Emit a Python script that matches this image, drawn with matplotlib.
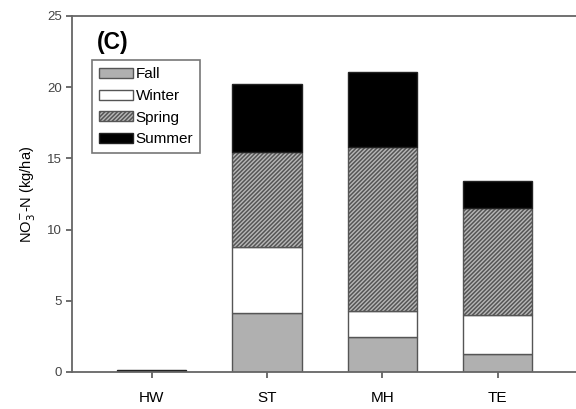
import matplotlib
matplotlib.use("Agg")
import matplotlib.pyplot as plt
import numpy as np

plt.rcParams['font.family'] = ['Liberation Sans', 'DejaVu Sans']
plt.rcParams['hatch.linewidth'] = 1.1
plt.rcParams['hatch.color'] = '#3a3a3a'

sites = ["HW", "ST", "MH", "TE"]
fall = [0.0, 4.12, 2.46, 1.26]
winter = [0.0, 4.68, 1.85, 2.74]
spring = [0.0, 6.63, 11.51, 7.50]
summer = [0.12, 4.77, 5.23, 1.91]

fig = plt.figure(figsize=(5.76, 4.09), dpi=100)
ax = fig.add_axes([0.125, 0.0905, 0.875, 0.8705])

x = np.arange(len(sites))
w = 0.6
edge = '#555555'
bottom = np.zeros(len(sites))
series = [
    ("Fall", fall, dict(facecolor='#b0b0b0', edgecolor=edge)),
    ("Winter", winter, dict(facecolor='white', edgecolor=edge)),
    ("Spring", spring, dict(facecolor='#b8b8b8', edgecolor=edge, hatch='////////')),
    ("Summer", summer, dict(facecolor='black', edgecolor='#222222')),
]
for name, vals, style in series:
    ax.bar(x, vals, w, bottom=bottom, label=name, linewidth=1.0, **style)
    bottom += np.array(vals)

ax.set_xlim(-0.69, 3.68)
ax.set_ylim(0, 25)
ax.set_yticks([0, 5, 10, 15, 20, 25])
ax.set_xticks(x)
ax.set_xticklabels(sites, fontsize=11)
ax.tick_params(axis='y', labelsize=9.5, labelcolor='#444444', color='#555555', length=4, width=1.2)
ax.tick_params(axis='x', color='#555555', length=4, width=1.2, pad=10)
for s in ['left', 'top', 'bottom', 'right']:
    ax.spines[s].set_color('#666666')
    ax.spines[s].set_linewidth(1.3)
ax.spines['right'].set_visible(False)

ax.set_ylabel("NO$_3^{-}$-N (kg/ha)", fontsize=10.5, labelpad=6)

ax.text(0.05, 0.957, "(C)", transform=ax.transAxes, fontsize=16.5, fontweight='bold',
        va='top', ha='left')

leg = ax.legend(loc='upper left', bbox_to_anchor=(0.04, 0.875), fontsize=11,
                frameon=True, fancybox=False, edgecolor='#555555',
                handlelength=2.2, handleheight=0.65, handletextpad=0.2,
                labelspacing=0.5, borderpad=0.45, borderaxespad=0)
leg.get_frame().set_linewidth(1.2)

fig.savefig("out.png", dpi=100, facecolor='white')
